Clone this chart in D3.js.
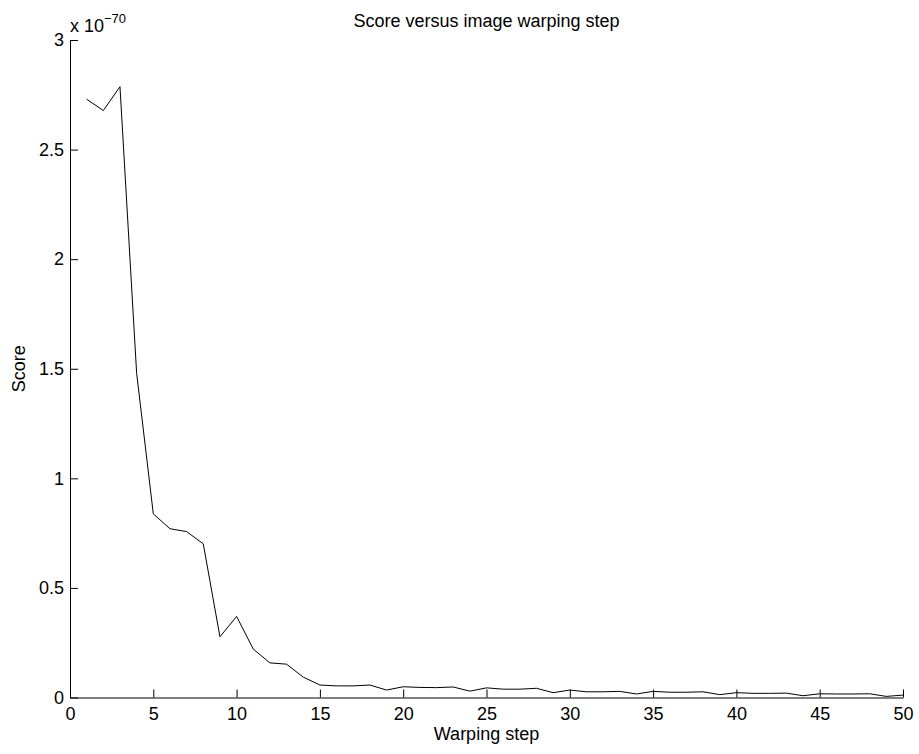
<!DOCTYPE html>
<html lang="en">
<head>
  <meta charset="UTF-8">
  <title>Score versus image warping step</title>
  <script src="https://d3js.org/d3.v7.min.js"></script>
  <style>
    body { margin: 0; background: #fff; font-family: "Liberation Sans", Arial, Helvetica, sans-serif; }
    .axis text { font-size: 18px; fill: #000; font-family: "Liberation Sans", Arial, sans-serif; }
    .axis path, .axis line { stroke: #000; }
  </style>
</head>
<body>
  <div id="chart"></div>
  <script>
    // warping steps 1..50 and score (in units of 1e-70)
    const steps = d3.range(1, 51);
    const scores = [
      2.73, 2.678, 2.787, 1.48, 0.838, 0.770, 0.757, 0.701, 0.277, 0.370,
      0.221, 0.158, 0.152, 0.093, 0.057, 0.053, 0.053, 0.057, 0.034, 0.049,
      0.046, 0.045, 0.048, 0.029, 0.044, 0.038, 0.038, 0.042, 0.022, 0.034,
      0.026, 0.026, 0.028, 0.016, 0.028, 0.024, 0.024, 0.026, 0.013, 0.022,
      0.019, 0.019, 0.020, 0.008, 0.017, 0.016, 0.016, 0.017, 0.005, 0.011
    ];
    const xTicks = [0, 5, 10, 15, 20, 25, 30, 35, 40, 45, 50];
    const yTicks = [0, 0.5, 1, 1.5, 2, 2.5, 3];

    const width = 919, height = 754;
    const plot = { left: 70, right: 903, top: 40, bottom: 697.5 };

    const svg = d3.select("#chart").append("svg")
      .attr("width", width)
      .attr("height", height);

    const x = d3.scaleLinear().domain([0, 50]).range([plot.left, plot.right]);
    const y = d3.scaleLinear().domain([0, 3]).range([plot.bottom, plot.top]);

    // axes, ticks pointing inward
    svg.append("g")
      .attr("class", "axis")
      .attr("transform", `translate(0,${y(0)})`)
      .call(d3.axisBottom(x).tickValues(xTicks).tickSizeInner(-8).tickSizeOuter(0).tickPadding(10))
      .call(g => g.selectAll("text").attr("dy", "0.71em"));

    svg.append("g")
      .attr("class", "axis")
      .attr("transform", `translate(${x(0)},0)`)
      .call(d3.axisLeft(y).tickValues(yTicks).tickSizeInner(-8).tickSizeOuter(0).tickPadding(6)
        .tickFormat(d => d3.format("~g")(d)));

    const line = d3.line()
      .x((d, i) => x(steps[i]))
      .y(d => y(d));

    svg.append("path")
      .datum(scores)
      .attr("fill", "none")
      .attr("stroke", "#000")
      .attr("stroke-width", 1)
      .attr("d", line);

    // exponent label
    const expo = svg.append("text")
      .attr("x", 70)
      .attr("y", 32)
      .attr("font-size", 18)
      .text("x 10");
    expo.append("tspan")
      .attr("font-size", 13)
      .attr("dy", -9)
      .text("\u221270");

    svg.append("text")
      .attr("x", (plot.left + plot.right) / 2)
      .attr("y", 27)
      .attr("text-anchor", "middle")
      .attr("font-size", 18)
      .text("Score versus image warping step");

    svg.append("text")
      .attr("x", (plot.left + plot.right) / 2)
      .attr("y", 740)
      .attr("text-anchor", "middle")
      .attr("font-size", 18)
      .text("Warping step");

    svg.append("text")
      .attr("transform", `translate(25,${(plot.top + plot.bottom) / 2}) rotate(-90)`)
      .attr("text-anchor", "middle")
      .attr("font-size", 18)
      .text("Score");
  </script>
</body>
</html>
